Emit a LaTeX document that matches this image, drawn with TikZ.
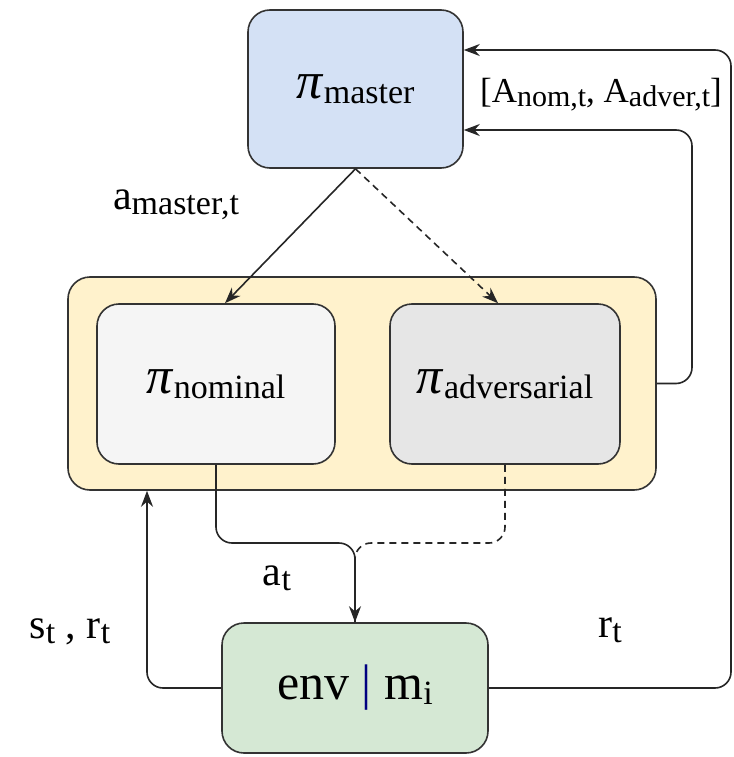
\documentclass[tikz,border=0pt]{standalone}
\usepackage{fontspec}
\setmainfont{Liberation Serif}
\usetikzlibrary{arrows.meta,calc}
\definecolor{mblue}{HTML}{D4E1F5}
\definecolor{myel}{HTML}{FFF2CC}
\definecolor{mnom}{HTML}{F5F5F5}
\definecolor{madv}{HTML}{E6E6E6}
\definecolor{menv}{HTML}{D5E8D4}
\definecolor{mline}{HTML}{333333}
\newcommand\lsub[2][34]{{\fontsize{#1}{#1}\selectfont\raisebox{-0.3ex}{\textrm{#2}}}}
\newcommand\bigpi{{\fontsize{52}{52}\selectfont\textit{π}}}
\begin{document}
\begin{tikzpicture}[x=1pt,y=-1pt,
  boxstyle/.style={draw=mline,line width=1.6pt,rounded corners=22pt,inner sep=0pt},
  conn/.style={draw=black!85,line width=1.6pt,rounded corners=16pt},
  tip/.style={-{Stealth[length=16pt,width=12pt]}},
  lbl/.style={font=\fontsize{42}{42}\selectfont,inner sep=0pt}]
\useasboundingbox[fill=white] (0,0) rectangle (733,757);
% boxes
\node[boxstyle,fill=mblue,minimum width=215pt,minimum height=158pt] (master) at (355.5,89) {};
\node[lbl] at (master.center) {\bigpi\lsub{master}};
\node[boxstyle,fill=myel,minimum width=588pt,minimum height=213pt] (yel) at (362,383.5) {};
\node[boxstyle,fill=mnom,minimum width=238pt,minimum height=160pt] (nom) at (216,384) {};
\node[lbl] at (nom.center) {\bigpi\lsub{nominal}};
\node[boxstyle,fill=madv,minimum width=230pt,minimum height=160pt] (adv) at (505,384) {};
\node[lbl] at (adv.center) {\bigpi\lsub{adversarial}};
\node[boxstyle,fill=menv,minimum width=266pt,minimum height=130pt] (env) at (355,688) {};
\node[lbl,font=\fontsize{50}{50}\selectfont] at (env.center) {env {\color{blue!50!black}|} m\lsub{i}};
% coordinates
\coordinate (topR) at (731,50);
\coordinate (midR) at (692,130);
\coordinate (join) at (355,543);
\coordinate (leftX) at (147,690);
% connectors
\draw[conn,tip] (master.south) -- ($(nom.north)+(9,0)$);
\draw[conn,tip,dashed,dash pattern=on 7pt off 5pt] (master.south) -- ($(adv.north)+(-7,0)$);
\draw[conn,dashed,dash pattern=on 7pt off 5pt] (adv.south) |- (join) -- (env.north);
\draw[conn,tip] (nom.south) |- (join) -- (env.north);
\draw[conn,tip] (env.west) -| (leftX |- yel.south);
\draw[conn,tip] (env.east) -| (topR) -- (master.east |- topR);
\draw[conn,tip] (yel.east) -| (midR) -- (master.east |- midR);
% labels
\node[lbl] at (176,205) {a\lsub{master,t}};
\node[lbl,font=\fontsize{35}{35}\selectfont] at (601,95) {[A\lsub[30]{nom,t}, A\lsub[30]{adver,t}]};
\node[lbl] at (277,578) {a\lsub{t}};
\node[lbl] at (70,632) {s\lsub{t} , r\lsub{t}};
\node[lbl] at (610,630) {r\lsub{t}};
\end{tikzpicture}
\end{document}
